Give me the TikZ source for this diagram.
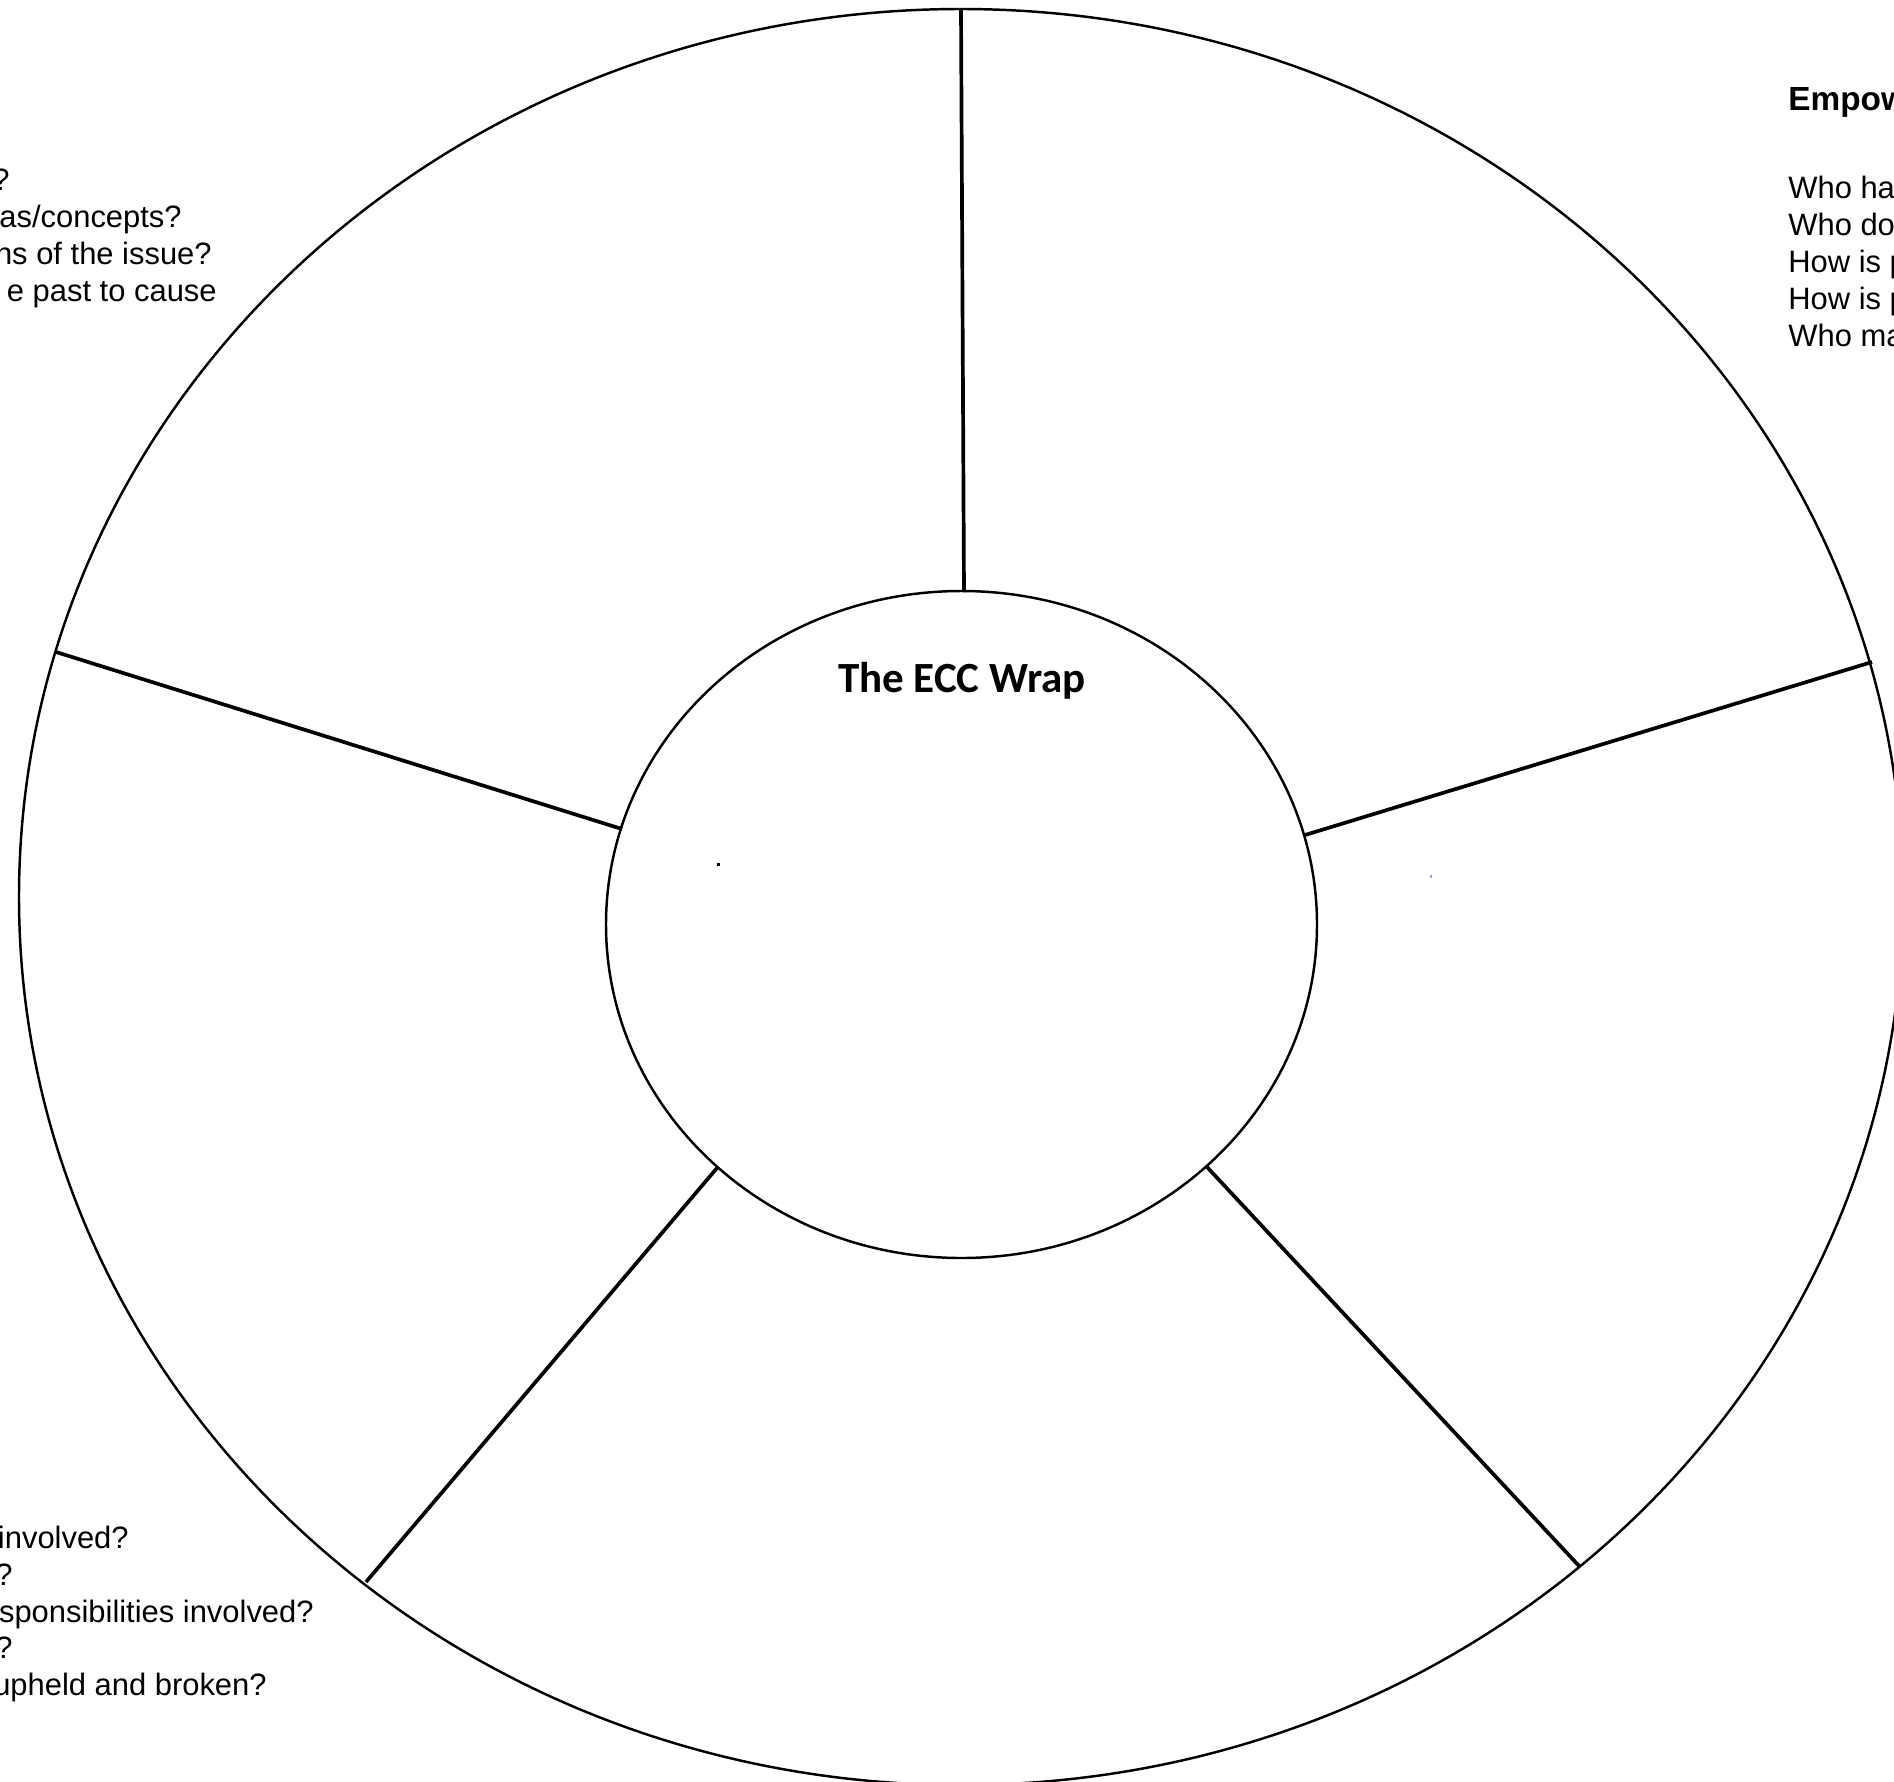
\documentclass[tikz,border=0pt]{standalone}
\usepackage{fontspec}
\setmainfont{Liberation Sans}
\newfontfamily\wrapfont{Carlito}
\usetikzlibrary{positioning}

\begin{document}
\begin{tikzpicture}[x=0.02cm,y=-0.02cm,line join=round,
  rim/.style={line width=1.4pt},
  spoke/.style={line width=2.1pt},
  prompt/.style={inner sep=0pt,font=\fontsize{17.6}{21}\selectfont},
  heading/.style={inner sep=0pt,font=\fontsize{19}{23}\selectfont\bfseries}]
  \useasboundingbox (0,0) rectangle (1894,1782);
  \clip (0,0) rectangle (1894,1782);

  % wheel
  \draw[rim] (961,897) ellipse [x radius=942, y radius=888];
  \draw[rim] (961.5,924.5) ellipse [x radius=355.5, y radius=333.5];

  % spoke ends, inner and outer
  \coordinate (hubN) at (964,592);
  \coordinate (rimN) at (961,9);
  \coordinate (hubE) at (1305,835);
  \coordinate (rimE) at (1872,662);
  \coordinate (hubSE) at (1207,1167);
  \coordinate (rimSE) at (1580,1567);
  \coordinate (hubSW) at (717,1168);
  \coordinate (rimSW) at (366,1582);
  \coordinate (hubW) at (622,829);
  \coordinate (rimW) at (56,652);

  \draw[spoke] (hubN) -- (rimN);
  \draw[spoke] (hubE) -- (rimE);
  \draw[spoke] (hubSE) -- (rimSE);
  \draw[spoke] (hubSW) -- (rimSW);
  \draw[spoke] (hubW) -- (rimW);

  \node[inner sep=0pt,anchor=base,font=\wrapfont\fontsize{24.5}{28}\selectfont\bfseries]
    (title) at (962,692) {The ECC Wrap};

  % stray marks
  \fill (717,863) rectangle (720,866);
  \fill[blue!40] (1430,875) rectangle (1432,878);

  % top left prompts
  \node[prompt,anchor=base east] (tl1) at (10,190) {?};
  \node[prompt,anchor=base east] (tl2) at (182,227) {as/concepts?};
  \node[prompt,anchor=base east] (tl3) at (212,264) {ns of the issue?};
  \node[prompt,anchor=base east] (tl4) at (217,301) {e past to cause};

  % top right prompts
  \node[heading,anchor=base west] (tr0) at (1788,110) {Empow};
  \node[prompt,anchor=base west] (tr1) at (1788,198) {Who ha};
  \node[prompt,anchor=base west] (tr2) at (1788,235) {Who do};
  \node[prompt,anchor=base west] (tr3) at (1788,272) {How is p};
  \node[prompt,anchor=base west] (tr4) at (1788,309) {How is p};
  \node[prompt,anchor=base west] (tr5) at (1788,346) {Who ma};

  % bottom left prompts
  \node[prompt,anchor=base east] (bl1) at (129,1548) {involved?};
  \node[prompt,anchor=base east] (bl2) at (13,1585) {?};
  \node[prompt,anchor=base east] (bl3) at (314,1622) {sponsibilities involved?};
  \node[prompt,anchor=base east] (bl4) at (13,1658) {?};
  \node[prompt,anchor=base east] (bl5) at (267,1695) {upheld and broken?};
\end{tikzpicture}
\end{document}
